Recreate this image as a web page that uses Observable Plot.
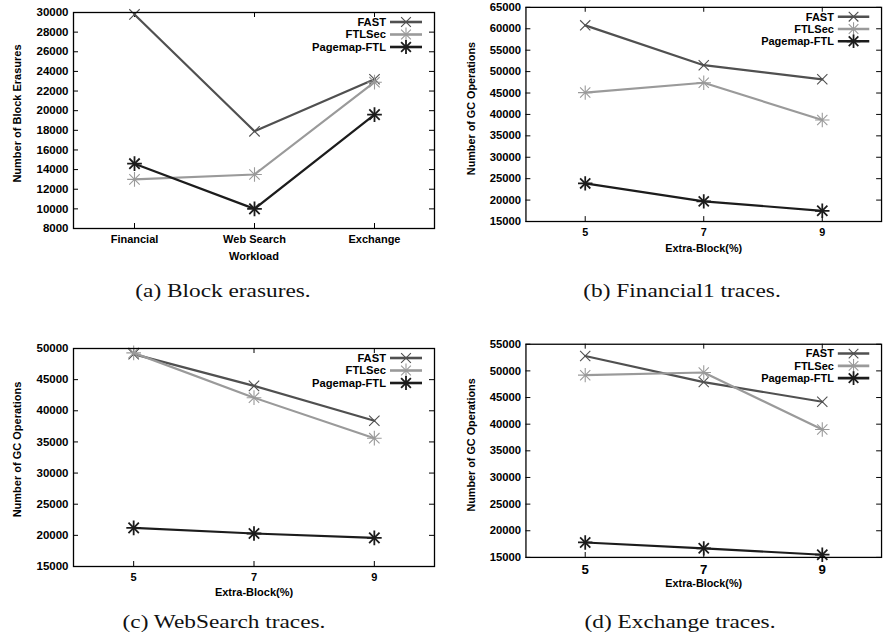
<!DOCTYPE html>
<html><head><meta charset="utf-8">
<script src="https://cdn.jsdelivr.net/npm/d3@7"></script>
<script src="https://cdn.jsdelivr.net/npm/@observablehq/plot@0.6"></script>
<style>
html,body{margin:0;padding:0;background:#fff;}
body{width:884px;height:641px;overflow:hidden;position:relative;}
.panel{position:absolute;}
.panel svg{overflow:visible;}
.cap{position:absolute;font-family:"Liberation Serif","DejaVu Serif",serif;font-size:18.5px;white-space:nowrap;transform:translate(-50%,-50%) scaleX(1.26);color:#111;}
</style></head><body>
<script>
// ---------- data ----------
const seriesNames = ["FAST", "FTLSec", "Pagemap-FTL"];
const workloads = ["Financial", "Web Search", "Exchange"];
const extraBlock = [5, 7, 9];

const erasFAST = [29800, 17900, 23200];
const erasFTLSec = [13000, 13500, 22900];
const erasPagemap = [14600, 10000, 19600];

const fin1FAST = [60800, 51500, 48200];
const fin1FTLSec = [45100, 47400, 38700];
const fin1Pagemap = [23900, 19700, 17500];

const webFAST = [49100, 44000, 38400];
const webFTLSec = [49300, 42100, 35600];
const webPagemap = [21200, 20300, 19600];

const exchFAST = [52800, 47900, 44200];
const exchFTLSec = [49200, 49700, 39000];
const exchPagemap = [17800, 16700, 15500];

const yTicksA = [8000, 10000, 12000, 14000, 16000, 18000, 20000, 22000, 24000, 26000, 28000, 30000];
const yTicksB = [15000, 20000, 25000, 30000, 35000, 40000, 45000, 50000, 55000, 60000, 65000];
const yTicksC = [15000, 20000, 25000, 30000, 35000, 40000, 45000, 50000];
const yTicksD = [15000, 20000, 25000, 30000, 35000, 40000, 45000, 50000, 55000];

const captions = ["(a) Block erasures.", "(b) Financial1 traces.", "(c) WebSearch traces.", "(d) Exchange traces."];

// ---------- styles ----------
const seriesStyle = {
  "FAST": {color: "#505050", symbols: ["times"], sw: 2.2, dsw: 1.1},
  "FTLSec": {color: "#9a9a9a", symbols: ["plus", "times"], sw: 2.2, dsw: 1.1},
  "Pagemap-FTL": {color: "#1c1c1c", symbols: ["plus", "times"], sw: 2.2, dsw: 1.8}
};
const d3sym = {times: d3.symbolTimes, plus: d3.symbolPlus};

function legendMark(names) {
  return (index, scales, values, dims) => {
    const g = d3.create("svg:g");
    const right = dims.width - dims.marginRight;
    const top = dims.marginTop;
    names.forEach((n, i) => {
      const st = seriesStyle[n];
      const y = top + 10 + i * 12.5;
      g.append("text").attr("x", right - 48).attr("y", y).attr("dy", "0.35em")
        .attr("text-anchor", "end").attr("fill", "#000").attr("font-size", 11.2).text(n);
      g.append("line").attr("x1", right - 44).attr("x2", right - 12).attr("y1", y).attr("y2", y)
        .attr("stroke", st.color).attr("stroke-width", 2.6);
      st.symbols.forEach(s => {
        g.append("path").attr("transform", `translate(${right - 28},${y})`)
          .attr("d", d3.symbol(d3sym[s], 64)())
          .attr("fill", "none").attr("stroke", st.color).attr("stroke-width", st.dsw);
      });
    });
    return g.node();
  };
}

function makePanel(cfg) {
  const {left, top, width, height, mt, mb, ml, mr, xs, xScale, xTicks, yDomain, yTicks, yLabel, xLabel, vals, xTickFont, yLabelDy, xLabelDy, yLabelDx} = cfg;
  const pw = width - ml - mr, ph = height - mt - mb;
  const marks = [];
  marks.push(Plot.ruleY(yTicks, {y: d => d, insetRight: pw - 5, stroke: "#000"}));
  marks.push(Plot.ruleY(yTicks, {y: d => d, insetLeft: pw - 5, stroke: "#000"}));
  marks.push(Plot.ruleX(xTicks, {x: d => d, insetTop: ph - 5, stroke: "#000"}));
  marks.push(Plot.ruleX(xTicks, {x: d => d, insetBottom: ph - 5, stroke: "#000"}));
  marks.push(Plot.axisY({ticks: yTicks, tickSize: 0, tickPadding: 5, tickFormat: d => String(d), label: null, fontSize: 11.5}));
  marks.push(Plot.axisX({ticks: xTicks, tickSize: 0, tickPadding: 7, tickFormat: d => String(d), label: null, fontSize: xTickFont || 11}));
  marks.push(Plot.text([yLabel], {frameAnchor: "left", text: d => d, rotate: -90, dx: yLabelDx, dy: yLabelDy, textAnchor: "middle", lineAnchor: "middle", fontSize: 11}));
  marks.push(Plot.text([xLabel], {frameAnchor: "bottom", text: d => d, dy: xLabelDy, textAnchor: "middle", lineAnchor: "middle", fontSize: 11}));
  seriesNames.forEach((n, si) => {
    const st = seriesStyle[n];
    const rows = xs.map((x, i) => ({x, y: vals[si][i]}));
    marks.push(Plot.line(rows, {x: "x", y: "y", stroke: st.color, strokeWidth: st.sw}));
    st.symbols.forEach(s => marks.push(Plot.dot(rows, {x: "x", y: "y", symbol: s, r: 4.8, stroke: st.color, strokeWidth: st.dsw})));
  });
  marks.push(Plot.frame({stroke: "#000", strokeWidth: 1.3}));
  marks.push(legendMark(seriesNames));
  const svg = Plot.plot({
    width, height, marginTop: mt, marginBottom: mb, marginLeft: ml, marginRight: mr,
    x: xScale, y: {domain: yDomain},
    style: {fontFamily: "'Liberation Sans', Arial, sans-serif", fontWeight: "bold", fontSize: "11px", color: "#000", background: "transparent", overflow: "visible"},
    marks
  });
  const div = document.createElement("div");
  div.className = "panel";
  div.style.left = left + "px";
  div.style.top = top + "px";
  div.appendChild(svg);
  document.body.appendChild(div);
}

makePanel({left: 0, top: 0, width: 440, height: 262, mt: 12, mb: 34, ml: 73, mr: 6,
  xs: workloads, xScale: {type: "point", domain: workloads, padding: 0.5}, xTicks: workloads,
  yDomain: [8000, 30000], yTicks: yTicksA, yLabel: "Number of Block Erasures", xLabel: "Workload",
  vals: [erasFAST, erasFTLSec, erasPagemap], yLabelDx: -56, yLabelDy: -7, xLabelDy: 28});

makePanel({left: 440, top: 0, width: 452, height: 262, mt: 7, mb: 37, ml: 87, mr: 3,
  xs: extraBlock, xScale: {type: "linear", domain: [4, 10]}, xTicks: extraBlock,
  yDomain: [15000, 65000], yTicks: yTicksB, yLabel: "Number of GC Operations", xLabel: "Extra-Block(%)",
  vals: [fin1FAST, fin1FTLSec, fin1Pagemap], yLabelDx: -55, yLabelDy: -6, xLabelDy: 28});

makePanel({left: 0, top: 330, width: 440, height: 270, mt: 18, mb: 34, ml: 73, mr: 6,
  xs: extraBlock, xScale: {type: "linear", domain: [4, 10]}, xTicks: extraBlock,
  yDomain: [15000, 50000], yTicks: yTicksC, yLabel: "Number of GC Operations", xLabel: "Extra-Block(%)",
  vals: [webFAST, webFTLSec, webPagemap], yLabelDx: -56, yLabelDy: -8, xLabelDy: 26});

makePanel({left: 440, top: 330, width: 452, height: 270, mt: 14, mb: 39, ml: 87, mr: 3,
  xs: extraBlock, xScale: {type: "linear", domain: [4, 10]}, xTicks: extraBlock,
  yDomain: [15000, 55000], yTicks: yTicksD, yLabel: "Number of GC Operations", xLabel: "Extra-Block(%)",
  vals: [exchFAST, exchFTLSec, exchPagemap], xTickFont: 13.5, yLabelDx: -55, yLabelDy: -6, xLabelDy: 27});

const capPos = [[223, 291], [682, 291], [224, 622], [680, 622]];
captions.forEach((c, i) => {
  const d = document.createElement("div");
  d.className = "cap";
  d.style.left = capPos[i][0] + "px";
  d.style.top = capPos[i][1] + "px";
  d.textContent = c;
  document.body.appendChild(d);
});
</script>
</body></html>
